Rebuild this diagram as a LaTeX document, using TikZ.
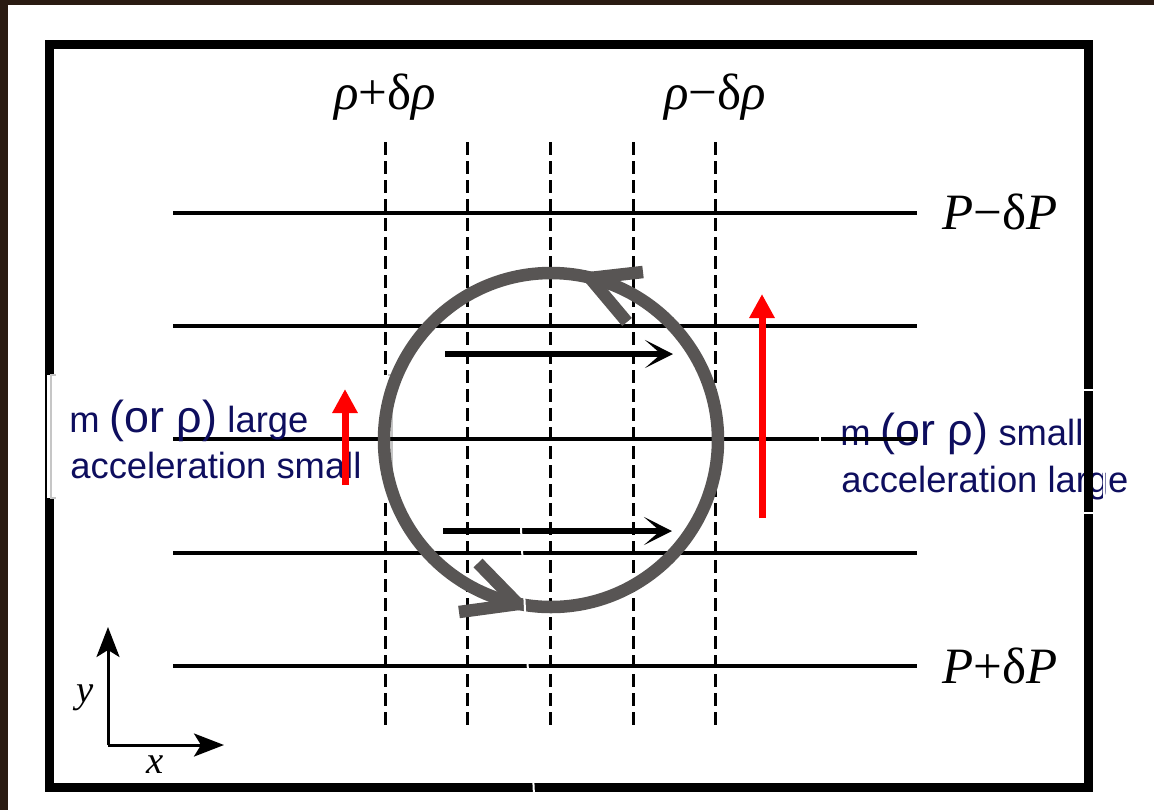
\documentclass[tikz,border=0pt]{standalone}
\usepackage{fontspec}
\setmainfont{Liberation Serif}
\setsansfont{Liberation Sans}
\usepackage{xcolor}
\usetikzlibrary{arrows.meta, positioning}

\definecolor{woodbrown}{RGB}{42,27,18}
\definecolor{loopgray}{RGB}{88,85,84}
\definecolor{navytext}{RGB}{14,14,94}

\begin{document}
\begin{tikzpicture}[
    x=0.2mm, y=-0.2mm,
    isobar/.style={line width=0.7mm, black},
    isopycnal/.style={line width=0.6mm, black, dash pattern=on 2.5mm off 1.3mm},
    loop/.style={line width=2.5mm, loopgray},
    barb/.style={line width=2.5mm, loopgray, line cap=butt, line join=miter},
    flow/.style={line width=1.3mm, -{Stealth[length=5.6mm, width=5.6mm, inset=3.2mm]}},
    accel/.style={line width=1.4mm, red, -{Triangle[length=4.8mm, width=4.8mm]}},
    axis/.style={line width=0.6mm, -{Stealth[length=6mm, width=4.6mm, inset=1.4mm]}},
    label/.style={font=\fontsize{29}{34}\selectfont, inner sep=0pt},
    axislabel/.style={font=\fontsize{22}{26}\selectfont\itshape, inner sep=0pt},
    note/.style={font=\sffamily\fontsize{20.7}{25}\selectfont, text=navytext, inner sep=0pt, anchor=base west},
    boxedge/.style={gray!45, line width=0.25mm},
    glitch/.style={white, line width=0.4mm}
]
    \useasboundingbox (0,0) rectangle (1154,810);
    \fill[woodbrown] (0,0) rectangle (1154,810);
    \fill[white] (8,5) rectangle (1154,810);

    % text on the right sits under the frame
    \node[note] (msmall) at (840,445) {m {\fontsize{25.5}{30}\selectfont (or ρ)} small};
    \node[note] (acclarge) at (841,492) {acceleration large};

    \draw[line width=1.8mm] (49,44) rectangle (1088,787);

    % density surfaces
    \foreach \x in {385,467,550,633,715}
        \draw[isopycnal] (\x,142) -- (\x,730);

    \fill[white] (47,375) rectangle (392,498);
    \draw[boxedge] (56,375) -| (51,498) -- (56,498);
    \draw[boxedge] (388,375) -| (392,498) -- (388,498);

    % pressure surfaces
    \foreach \y in {213,326,439,553,666}
        \draw[isobar] (173,\y) -- (917,\y);

    \node[label, anchor=base] (rhoplus) at (385,109) {\textit{ρ}+δ\textit{ρ}};
    \node[label, anchor=base] (rhominus) at (715,109) {\textit{ρ}−δ\textit{ρ}};
    \node[label, anchor=west] (pminus) at (942,212) {\textit{P}−δ\textit{P}};
    \node[label, anchor=west] (pplus) at (942,666) {\textit{P}+δ\textit{P}};

    % circulation
    \coordinate (eddy) at (551,440);
    \draw[loop] (eddy) circle[radius=167];
    \draw[barb] (643,272) -- (590,278) -- (627,322);
    \draw[barb] (459,612) -- (518,604) -- (478,563);

    \coordinate (u1a) at (445,354);
    \coordinate (u1b) at (673,354);
    \coordinate (u2a) at (443,531);
    \coordinate (u2b) at (672,531);
    \draw[flow] (u1a) -- (u1b);
    \draw[flow] (u2a) -- (u2b);

    \node[note] (mlarge) at (69,432) {m {\fontsize{25.5}{30}\selectfont (or ρ)} large};
    \node[note] (accsmall) at (70,478) {acceleration small};

    \coordinate (redL0) at (345,485);
    \coordinate (redL1) at (345,389);
    \coordinate (redR0) at (762,518);
    \coordinate (redR1) at (762,294);
    \draw[accel] (redL0) -- (redL1);
    \draw[accel] (redR0) -- (redR1);

    % axes
    \coordinate (origin) at (108,745);
    \coordinate (ytip) at (108,627);
    \coordinate (xtip) at (224,745);
    \draw[axis] (origin) -- (ytip);
    \draw[axis] (origin) -- (xtip);
    \node[axislabel] (ylab) at (85,698) {y};
    \node[axislabel] (xlab) at (155,765) {x};

    \draw[glitch] (820,390) rectangle (1104,513);
    \draw[glitch] (521,528) -- (534,795);
\end{tikzpicture}
\end{document}
